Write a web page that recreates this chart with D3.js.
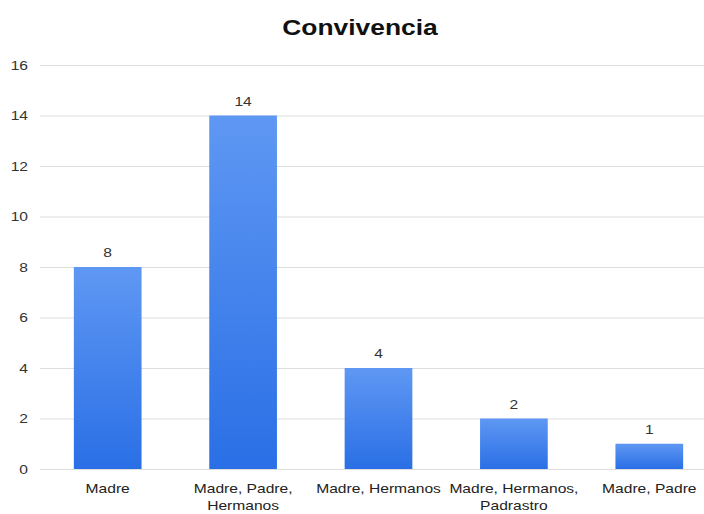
<!DOCTYPE html>
<html lang="es">
<head>
<meta charset="utf-8" />
<title>Convivencia</title>
<script src="https://cdn.jsdelivr.net/npm/d3@7"></script>
<style>
  body { margin: 0; background: #fff; }
  text { font-family: "Liberation Sans", Arial, sans-serif; }
</style>
</head>
<body>
<div id="chart"></div>
<script>
const categories = [
  ['Madre'],
  ['Madre, Padre,', 'Hermanos'],
  ['Madre, Hermanos'],
  ['Madre, Hermanos,', 'Padrastro'],
  ['Madre, Padre']
];
const values = [8, 14, 4, 2, 1];
const yTicks = [0, 2, 4, 6, 8, 10, 12, 14, 16];

const W = 704, H = 514;
const margin = { top: 65, right: -13, bottom: 45, left: 40 };
const width = W - margin.left - margin.right;
const height = H - margin.top - margin.bottom;
// the source picture has its text a bit stretched sideways
const sx = 1.2;

const svg = d3.select('#chart')
  .append('svg')
    .attr('width', W)
    .attr('height', H);

const defs = svg.append('defs');
const grad = defs.append('linearGradient')
  .attr('id', 'barGrad')
  .attr('x1', '0%').attr('y1', '0%')
  .attr('x2', '0%').attr('y2', '100%');
grad.append('stop').attr('offset', '0%').attr('stop-color', '#5f98f3');
grad.append('stop').attr('offset', '100%').attr('stop-color', '#2a6fe6');

svg.append('text')
  .attr('transform', `translate(360,35) scale(${sx},1)`)
  .attr('text-anchor', 'middle')
  .attr('font-size', 22)
  .attr('font-weight', 'bold')
  .attr('fill', '#111')
  .text('Convivencia');

const g = svg.append('g')
  .attr('transform', `translate(${margin.left},${margin.top})`);

const idx = values.map((d, i) => i);

const x = d3.scaleBand()
  .domain(idx)
  .range([0, width])
  .paddingInner(0.5)
  .paddingOuter(0.25);

const y = d3.scaleLinear()
  .domain([0, 16])
  .range([height, 0]);

// grid + y labels
const yAxis = g.append('g')
  .call(d3.axisLeft(y).tickValues(yTicks).tickSize(-width));
yAxis.select('.domain').remove();
yAxis.selectAll('.tick line').attr('stroke', '#dddddd');
yAxis.selectAll('.tick text')
  .attr('x', -10)
  .attr('transform', `scale(${sx},1)`)
  .attr('font-size', 13)
  .attr('fill', '#333')
  .style('font-family', '"Liberation Sans", Arial, sans-serif');

// bars
g.selectAll('.bar')
  .data(values)
  .enter()
  .append('rect')
    .attr('class', 'bar')
    .attr('x', (d, i) => x(i))
    .attr('y', d => y(d))
    .attr('width', x.bandwidth())
    .attr('height', d => height - y(d))
    .attr('fill', 'url(#barGrad)');

// value labels
g.selectAll('.val')
  .data(values)
  .enter()
  .append('text')
    .attr('class', 'val')
    .attr('transform', (d, i) =>
      `translate(${x(i) + x.bandwidth() / 2},${y(d) - 10}) scale(${sx},1)`)
    .attr('text-anchor', 'middle')
    .attr('font-size', 13)
    .attr('fill', '#333')
    .text(d => d);

// category labels
g.selectAll('.cat')
  .data(categories)
  .enter()
  .append('text')
    .attr('class', 'cat')
    .attr('transform', (d, i) =>
      `translate(${x(i) + x.bandwidth() / 2},${height + 24}) scale(${sx},1)`)
    .attr('text-anchor', 'middle')
    .attr('font-size', 13)
    .attr('fill', '#222')
    .selectAll('tspan')
    .data(d => d)
    .enter()
    .append('tspan')
      .attr('x', 0)
      .attr('dy', (d, i) => i === 0 ? 0 : 17)
      .text(d => d);
</script>
</body>
</html>
